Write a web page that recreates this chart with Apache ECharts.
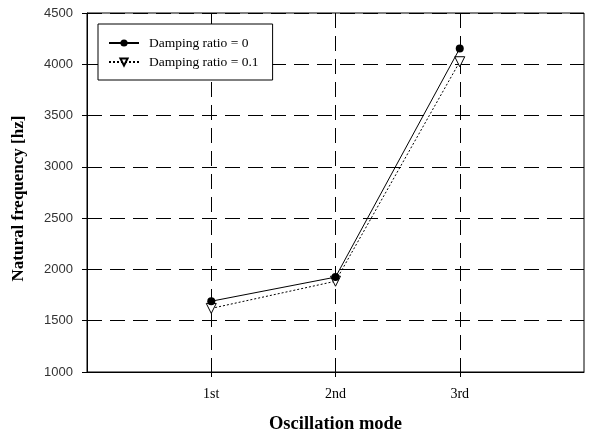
<!DOCTYPE html>
<html>
<head>
<meta charset="utf-8">
<script src="https://cdn.jsdelivr.net/npm/echarts@6/dist/echarts.min.js"></script>
<style>html,body{margin:0;padding:0;background:#fff}#c{width:589px;height:435px}</style>
</head>
<body>
<div id="c"></div>
<script>
var modes = ['1st', '2nd', '3rd'];
var damping0 = [1690, 1925, 4155];
var damping01 = [1620, 1885, 4025];
var yTicks = [1000, 1500, 2000, 2500, 3000, 3500, 4000, 4500];

var axisCats = [''].concat(modes, ['']);
function pad(a) { return [null].concat(a, [null]); }
var serif = 'Liberation Serif';
var chart = echarts.init(document.getElementById('c'), null, {renderer: 'canvas'});
var dash = [15, 8];
chart.setOption({
  animation: false,
  backgroundColor: '#fff',
  grid: {left: 87, right: 5, top: 13, bottom: 63, show: true, borderColor: '#000', borderWidth: 1, containLabel: false, outerBoundsMode: 'none'},
  legend: {
    orient: 'vertical', left: 98, top: 24,
    padding: [12, 14, 11, 10],
    itemGap: 5,
    itemWidth: 30, itemHeight: 9,
    borderColor: '#000', borderWidth: 1, backgroundColor: '#fff',
    textStyle: {fontFamily: serif, fontSize: 13.5, lineHeight: 13, color: '#000', padding: [0, 0, 0, 5]},
    data: ['Damping ratio = 0', 'Damping ratio = 0.1']
  },
  xAxis: {
    type: 'category', data: axisCats, boundaryGap: false,
    name: 'Oscillation mode', nameLocation: 'middle', nameGap: 43,
    nameTextStyle: {fontFamily: serif, fontSize: 18.5, fontWeight: 'bold', color: '#000'},
    axisLine: {lineStyle: {color: '#000', width: 1}},
    axisTick: {show: true, length: 5, interval: function (i) { return i >= 1 && i <= modes.length; }, lineStyle: {color: '#000'}},
    axisLabel: {interval: 0, margin: 15, fontFamily: serif, fontSize: 14, color: '#000'},
    splitLine: {show: true, interval: function (i) { return i >= 1 && i <= modes.length; }, lineStyle: {color: '#000', type: dash, width: 1}}
  },
  yAxis: {
    type: 'value', min: yTicks[0], max: yTicks[yTicks.length - 1], interval: 500,
    name: 'Natural frequency [hz]', nameLocation: 'middle', nameGap: 60, nameRotate: 90,
    nameTextStyle: {fontFamily: serif, fontSize: 17, fontWeight: 'bold', color: '#000', padding: [0, 12, 0, 0]},
    axisLine: {show: true, lineStyle: {color: '#000', width: 1}},
    axisTick: {show: true, length: 5, lineStyle: {color: '#000'}},
    axisLabel: {margin: 14, fontFamily: 'Liberation Sans', fontSize: 13, color: '#333', formatter: function (v) { return String(v); }},
    splitLine: {show: true, lineStyle: {color: '#000', type: dash, width: 1}}
  },
  series: [
    {
      name: 'Damping ratio = 0', type: 'line', data: pad(damping0),
      symbol: 'circle', symbolSize: 8, showSymbol: true,
      itemStyle: {color: '#000'},
      lineStyle: {color: '#000', width: 1, type: 'solid'},
      z: 3
    },
    {
      name: 'Damping ratio = 0.1', type: 'line', data: pad(damping01),
      symbol: 'triangle', symbolRotate: 180, symbolSize: 10, showSymbol: true,
      itemStyle: {color: '#fff', borderColor: '#000', borderWidth: 1},
      lineStyle: {color: '#000', width: 1, type: [2, 2]},
      z: 2
    }
  ]
});
</script>
</body>
</html>
